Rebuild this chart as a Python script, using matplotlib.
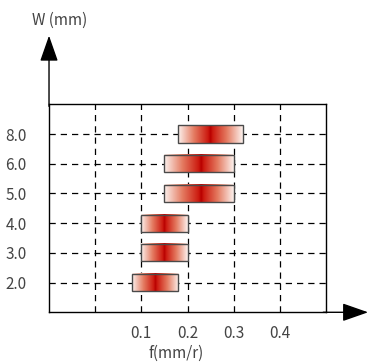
import numpy as np
import matplotlib
matplotlib.use("Agg")
import matplotlib.pyplot as plt
from matplotlib.colors import LinearSegmentedColormap

plt.rcParams['font.family'] = ['Noto Sans CJK SC', 'DejaVu Sans']

# ==========================================
# DATA
# ==========================================

widths = ["2.0", "3.0", "4.0", "5.0", "6.0", "8.0"]
f_low = [0.08, 0.10, 0.10, 0.15, 0.15, 0.18]
f_high = [0.18, 0.20, 0.20, 0.30, 0.30, 0.32]
f_peak = [0.13, 0.15, 0.15, 0.23, 0.23, 0.25]

x_ticks = [0.0, 0.1, 0.2, 0.3, 0.4]
x_labels = ["", "0.1", "0.2", "0.3", "0.4"]

# ==========================================
# FIGURE
# ==========================================

fig = plt.figure(figsize=(3.68, 3.63), dpi=100)
ax = fig.add_axes([0.1332, 0.1397, 0.7527, 0.573])

cmap = LinearSegmentedColormap.from_list(
    "band",
    [(0.0, "#b80000"), (0.07, "#cc1a10"), (0.5, "#e47a60"), (1.0, "#fcf2ee")]
)

half = 0.29
for i, w in enumerate(widths):
    lo, hi, pk = f_low[i], f_high[i], f_peak[i]
    xs = np.linspace(lo, hi, 300)
    t = np.where(xs < pk, (pk - xs) / (pk - lo), (xs - pk) / (hi - pk))
    rgb = cmap(np.clip(t, 0, 1))[np.newaxis, :, :]
    ax.imshow(rgb, extent=[lo, hi, i - half, i + half], aspect="auto",
              zorder=2, interpolation="bilinear")
    ax.add_patch(plt.Rectangle((lo, i - half), hi - lo, 2 * half,
                               fill=False, edgecolor="#4a4a4a", lw=1.0, zorder=3))

ax.set_xlim(-0.1, 0.5)
ax.set_ylim(-1, 6)
ax.set_xticks(x_ticks)
ax.set_xticklabels(x_labels)
ax.set_yticks(range(len(widths)))
ax.set_yticklabels(widths)
ax.tick_params(length=0, labelsize=11, labelcolor="#444444")
ax.tick_params(axis="y", pad=16)
ax.tick_params(axis="x", pad=9)

ax.set_axisbelow(True)
ax.grid(True, color="black", ls=(0, (5, 4)), lw=0.9)

for s in ax.spines.values():
    s.set_color("black")
    s.set_linewidth(1.0)

# axis arrows
head = "-|>,head_length=0.8,head_width=0.28"
ax.annotate("", xy=(0, 1.33), xytext=(0, 0.99), xycoords="axes fraction",
            arrowprops=dict(arrowstyle=head, color="black", lw=1.0,
                            mutation_scale=20, shrinkA=0, shrinkB=0))
ax.annotate("", xy=(1.152, 0), xytext=(0.99, 0), xycoords="axes fraction",
            arrowprops=dict(arrowstyle=head, color="black", lw=1.0,
                            mutation_scale=20, shrinkA=0, shrinkB=0))

fig.text(32 / 368, 1 - 20 / 363, "W (mm)", fontsize=11, color="#444444",
         ha="left", va="center")
fig.text(176 / 368, 1 - 353 / 363, "f(mm/r)", fontsize=11, color="#444444",
         ha="center", va="center")

fig.savefig("out.png", dpi=100)
